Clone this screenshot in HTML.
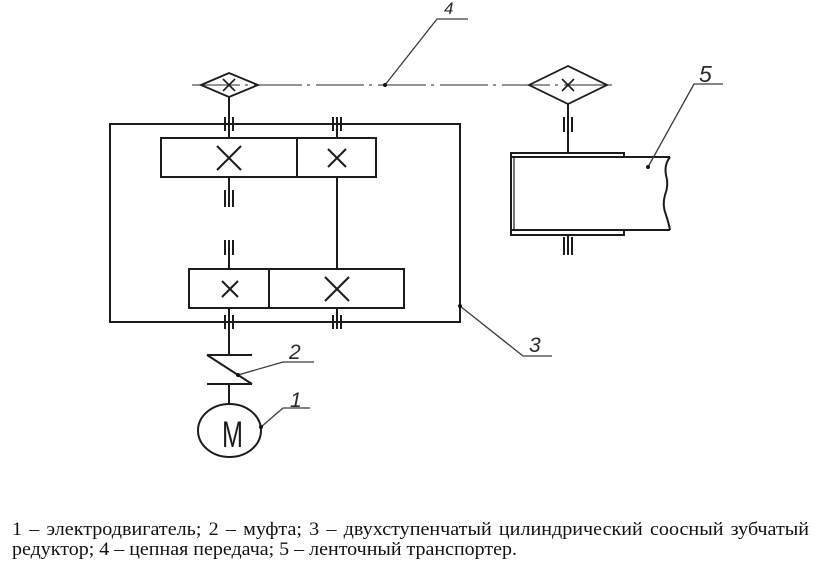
<!DOCTYPE html>
<html>
<head>
<meta charset="utf-8">
<style>
  html,body{margin:0;padding:0;background:#fff;}
  body{width:822px;height:580px;overflow:hidden;}
  svg{display:block;}
</style>
</head>
<body>
<svg width="822" height="580" viewBox="0 0 822 580" xmlns="http://www.w3.org/2000/svg">
  <g fill="none" stroke="#1c1c1c" stroke-width="2" stroke-linecap="butt">
    <!-- chain axis (dash-dot) -->
    <line x1="192" y1="85" x2="615" y2="85" stroke="#555" stroke-width="1.3" stroke-dasharray="48 5 3 6"/>

    <!-- left sprocket -->
    <polygon points="201,85 229,73 258,85 229,97" stroke-width="1.8"/>
    <line x1="223" y1="79" x2="235" y2="91" stroke-width="1.6"/>
    <line x1="235" y1="79" x2="223" y2="91" stroke-width="1.6"/>

    <!-- right sprocket -->
    <polygon points="529,85 568,66 607,85 568,104" stroke-width="1.8"/>
    <line x1="562" y1="79" x2="574" y2="91" stroke-width="1.6"/>
    <line x1="574" y1="79" x2="562" y2="91" stroke-width="1.6"/>

    <!-- housing -->
    <rect x="110" y="124" width="350" height="198"/>

    <!-- input/output shaft 229 top -->
    <line x1="229" y1="97" x2="229" y2="138"/>
    <line x1="225" y1="117" x2="225" y2="131"/>
    <line x1="233" y1="117" x2="233" y2="131"/>
    <!-- shaft 337 top bearing -->
    <line x1="337" y1="117" x2="337" y2="138"/>
    <line x1="333" y1="117" x2="333" y2="131"/>
    <line x1="341" y1="117" x2="341" y2="131"/>

    <!-- upper gear box -->
    <rect x="161" y="138" width="215" height="39"/>
    <line x1="297" y1="138" x2="297" y2="177"/>
    <line x1="217" y1="146" x2="241" y2="170"/>
    <line x1="241" y1="146" x2="217" y2="170"/>
    <line x1="328" y1="149" x2="346" y2="167"/>
    <line x1="346" y1="149" x2="328" y2="167"/>

    <!-- shaft 229 between boxes (stub with bearing marks) -->
    <line x1="229" y1="177" x2="229" y2="207"/>
    <line x1="225" y1="190" x2="225" y2="207"/>
    <line x1="233" y1="190" x2="233" y2="207"/>
    <line x1="229" y1="240" x2="229" y2="269"/>
    <line x1="225" y1="240" x2="225" y2="255"/>
    <line x1="233" y1="240" x2="233" y2="255"/>

    <!-- intermediate shaft 337 -->
    <line x1="337" y1="177" x2="337" y2="269"/>

    <!-- lower gear box -->
    <rect x="189" y="269" width="215" height="39"/>
    <line x1="269" y1="269" x2="269" y2="308"/>
    <line x1="222" y1="281" x2="238" y2="297"/>
    <line x1="238" y1="281" x2="222" y2="297"/>
    <line x1="325" y1="277" x2="349" y2="301"/>
    <line x1="349" y1="277" x2="325" y2="301"/>

    <!-- bottom bearings -->
    <line x1="229" y1="308" x2="229" y2="356"/>
    <line x1="225" y1="315" x2="225" y2="329"/>
    <line x1="233" y1="315" x2="233" y2="329"/>
    <line x1="337" y1="308" x2="337" y2="329"/>
    <line x1="333" y1="315" x2="333" y2="329"/>
    <line x1="341" y1="315" x2="341" y2="329"/>

    <!-- coupling -->
    <line x1="207" y1="355" x2="252" y2="355"/>
    <line x1="207" y1="355" x2="252" y2="384"/>
    <line x1="207" y1="384" x2="252" y2="384"/>
    <line x1="229" y1="384" x2="229" y2="404"/>

    <!-- motor -->
    <ellipse cx="229.5" cy="430.5" rx="31.5" ry="26.5"/>

    <!-- drum / conveyor -->
    <line x1="568" y1="104" x2="568" y2="153"/>
    <line x1="564" y1="117" x2="564" y2="132"/>
    <line x1="572" y1="117" x2="572" y2="132"/>
    <path d="M511,153 H624 V157"/>
    <path d="M511,157 H670"/>
    <path d="M670,157 Q664,165 666,175 Q669,185 665,195 Q662,205 666,215 Q669,224 670,230"/>
    <path d="M511,230 H670"/>
    <path d="M511,235 H624 V230"/>
    <line x1="511" y1="152" x2="511" y2="236"/>
    <line x1="514" y1="157" x2="514" y2="230" stroke-width="1.2"/>
    <line x1="568" y1="235" x2="568" y2="255"/>
    <line x1="564" y1="237" x2="564" y2="255"/>
    <line x1="572" y1="237" x2="572" y2="255"/>
  </g>

  <!-- leaders -->
  <g fill="none" stroke="#3a3a3a" stroke-width="1.3">
    <polyline points="385,85 437,19 468,19"/>
    <polyline points="648,167 694,84 723,84"/>
    <polyline points="460,306 523,356 552,356"/>
    <polyline points="238,375 283,362 314,362"/>
    <polyline points="261,427 283,408 310,408"/>
  </g>
  <g fill="#111">
    <circle cx="385" cy="85" r="2"/>
    <circle cx="648" cy="167" r="2"/>
    <circle cx="460" cy="306" r="2"/>
    <circle cx="238" cy="375" r="2"/>
    <circle cx="261" cy="427" r="2"/>
  </g>

  <!-- motor letter -->
  <text x="222" y="447" font-family="Liberation Sans, sans-serif" font-size="37" fill="#1c1c1c" textLength="21" lengthAdjust="spacingAndGlyphs">M</text>

  <!-- label numbers -->
  <g font-family="Liberation Sans, sans-serif" font-style="italic" fill="#2a2a2a">
    <text x="444" y="14" font-size="17">4</text>
    <text x="699" y="82" font-size="23">5</text>
    <text x="529" y="352" font-size="21">3</text>
    <text x="289" y="359" font-size="21">2</text>
    <text x="290" y="407" font-size="21">1</text>
  </g>

  <!-- caption -->
  <g font-family="Liberation Serif, serif" font-size="18.5" fill="#111">
    <text x="12" y="535" textLength="797" lengthAdjust="spacingAndGlyphs" word-spacing="2">1 – электродвигатель; 2 – муфта; 3 – двухступенчатый цилиндрический соосный зубчатый</text>
    <text x="12" y="555" textLength="505" lengthAdjust="spacingAndGlyphs">редуктор; 4 – цепная передача; 5 – ленточный транспортер.</text>
  </g>
</svg>
</body>
</html>
